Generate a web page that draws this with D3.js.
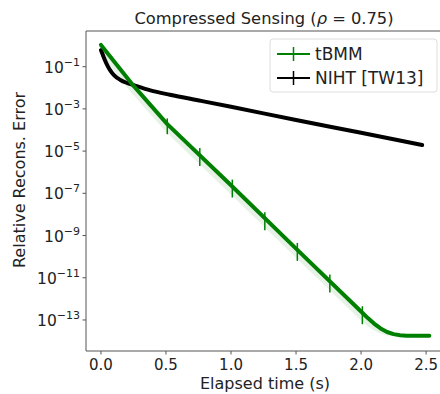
<!DOCTYPE html>
<html>

<script src="https://cdn.jsdelivr.net/npm/d3@7/dist/d3.min.js"></script>

<style>

  body, html {
    padding: 0;
    margin: 0;
    background: #fff;
  }

  svg {
    width: 440px;
    height: 394px;
    font-family: "DejaVu Sans", sans-serif;
  }

</style>

<body>
  <svg></svg>

  <script>

    // log10 of the relative error
    var tbmmTime = [0, 0.236, 0.51, 1.0, 1.5, 2.0, 2.05, 2.1, 2.15, 2.2, 2.25, 2.3, 2.35, 2.4, 2.525],
        tbmmLog  = [0.03, -1.8, -3.72, -6.62, -9.62, -12.6, -12.9, -13.17, -13.4, -13.57, -13.67, -13.72, -13.745, -13.75, -13.75],
        tbmmBand = [-0.4, -2.25, -4.15, -7.05, -10.05, -13.03, -13.3, -13.5, -13.65, -13.74, -13.77, -13.78, -13.78, -13.78, -13.78];

    var errTime = [0.51, 0.76, 1.01, 1.26, 1.51, 1.76, 2.01],
        errLow  = [-4.2, -5.7, -7.2, -8.75, -10.2, -11.7, -13.2],
        errHigh = [-3.45, -4.85, -6.35, -7.9, -9.35, -10.85, -12.35];

    var nihtTime = [0, 0.015, 0.03, 0.05, 0.07, 0.1, 0.15, 0.2, 0.25, 0.38, 0.53, 0.77, 1.0, 1.5, 2.0, 2.47],
        nihtLog  = [-0.21, -0.45, -0.68, -0.95, -1.16, -1.4, -1.63, -1.77, -1.87, -2.12, -2.33, -2.62, -2.9, -3.53, -4.13, -4.71];

    var xTicks = [0.0, 0.5, 1.0, 1.5, 2.0, 2.5],
        yTickExp = [-1, -3, -5, -7, -9, -11, -13];

    var series = [
      { name: 'tBMM', color: 'green' },
      { name: 'NIHT [TW13]', color: 'black' }
    ];

    var pLeft = 86, pTop = 31, pBottom = 351, pRight = 443;

    var x = d3.scaleLinear().domain([-0.115, 2.63]).range([pLeft, pRight]),
        y = d3.scaleLog().domain([Math.pow(10, -14.47), Math.pow(10, 0.69)]).range([pBottom, pTop]);

    var svg = d3.select('svg');

    svg.append('defs').append('clipPath').attr('id', 'plot')
      .append('rect').attr('x', pLeft).attr('y', pTop).attr('width', pRight - pLeft).attr('height', pBottom - pTop);

    var plot = svg.append('g').attr('clip-path', 'url(#plot)');

    var pow = function (e) { return Math.pow(10, e); };

    // shaded spread of tBMM
    plot.append('path')
      .datum(tbmmTime.map(function (t, i) { return { t: t, lo: tbmmBand[i], hi: tbmmLog[i] }; }))
      .attr('fill', 'green')
      .attr('fill-opacity', 0.1)
      .attr('d', d3.area()
        .x(function (d) { return x(d.t); })
        .y0(function (d) { return y(pow(d.lo)); })
        .y1(function (d) { return y(pow(d.hi)); }));

    var line = d3.line()
      .x(function (d) { return x(d.t); })
      .y(function (d) { return y(pow(d.v)); });

    plot.append('path')
      .datum(nihtTime.map(function (t, i) { return { t: t, v: nihtLog[i] }; }))
      .attr('fill', 'none')
      .attr('stroke', 'black')
      .attr('stroke-width', 4)
      .attr('stroke-linecap', 'round')
      .attr('d', line.curve(d3.curveMonotoneX));

    plot.append('path')
      .datum(tbmmTime.map(function (t, i) { return { t: t, v: tbmmLog[i] }; }))
      .attr('fill', 'none')
      .attr('stroke', 'green')
      .attr('stroke-width', 4)
      .attr('stroke-linecap', 'round')
      .attr('stroke-linejoin', 'round')
      .attr('d', line.curve(d3.curveLinear));

    plot.selectAll('line.err')
      .data(errTime)
      .enter().append('line')
      .attr('class', 'err')
      .attr('x1', function (d) { return x(d); })
      .attr('x2', function (d) { return x(d); })
      .attr('y1', function (d, i) { return y(pow(errHigh[i])); })
      .attr('y2', function (d, i) { return y(pow(errLow[i])); })
      .attr('stroke', 'green')
      .attr('stroke-width', 1.5);

    // spines
    var spine = '#555';
    svg.append('line').attr('x1', pLeft).attr('x2', pLeft).attr('y1', pTop).attr('y2', pBottom)
      .attr('stroke', spine).attr('stroke-width', 1);
    svg.append('line').attr('x1', pLeft).attr('x2', 440).attr('y1', pBottom).attr('y2', pBottom)
      .attr('stroke', spine).attr('stroke-width', 1);
    svg.append('line').attr('x1', pLeft).attr('x2', 440).attr('y1', pTop).attr('y2', pTop)
      .attr('stroke', spine).attr('stroke-width', 1);

    // x ticks
    var xt = svg.append('g').selectAll('g').data(xTicks).enter().append('g')
      .attr('transform', function (d) { return 'translate(' + x(d) + ',' + pBottom + ')'; });
    xt.append('line').attr('y2', 3.5).attr('stroke', spine);
    xt.append('text')
      .attr('y', 19).attr('text-anchor', 'middle')
      .attr('font-size', 15).attr('fill', '#222')
      .text(function (d) { return d.toFixed(1); });

    // y ticks
    var yt = svg.append('g').selectAll('g').data(yTickExp).enter().append('g')
      .attr('transform', function (d) { return 'translate(' + pLeft + ',' + y(pow(d)) + ')'; });
    yt.append('line').attr('x2', -3.5).attr('stroke', spine);
    var ytext = yt.append('text')
      .attr('x', -6).attr('y', 6).attr('text-anchor', 'end')
      .attr('font-size', 15.5).attr('fill', '#222');
    ytext.append('tspan').text('10');
    ytext.append('tspan').attr('font-size', 11).attr('dy', -7)
      .text(function (d) { return '\u2212' + Math.abs(d); });

    // axis labels and title
    svg.append('text')
      .attr('x', 265).attr('y', 389).attr('text-anchor', 'middle')
      .attr('font-size', 16).attr('fill', '#222')
      .text('Elapsed time (s)');

    svg.append('text')
      .attr('transform', 'translate(25,180) rotate(-90)')
      .attr('text-anchor', 'middle')
      .attr('font-size', 16).attr('fill', '#222')
      .text('Relative Recons. Error');

    var title = svg.append('text')
      .attr('x', 264).attr('y', 24).attr('text-anchor', 'middle')
      .attr('font-size', 16.3).attr('fill', '#222');
    title.append('tspan').text('Compressed Sensing (');
    title.append('tspan').attr('font-style', 'italic').text('\u03c1');
    title.append('tspan').text(' = 0.75)');

    // legend
    var legend = svg.append('g').attr('transform', 'translate(270,39)');
    legend.append('rect')
      .attr('width', 167).attr('height', 53).attr('rx', 3)
      .attr('fill', 'white').attr('fill-opacity', 0.8)
      .attr('stroke', '#ddd');
    var item = legend.selectAll('g').data(series).enter().append('g')
      .attr('transform', function (d, i) { return 'translate(0,' + (15 + i * 24) + ')'; });
    item.append('line').attr('x1', 7).attr('x2', 40)
      .attr('stroke', function (d) { return d.color; }).attr('stroke-width', 1.8);
    item.append('line').attr('x1', 23.5).attr('x2', 23.5).attr('y1', -7).attr('y2', 7)
      .attr('stroke', function (d) { return d.color; }).attr('stroke-width', 1.5);
    item.append('text')
      .attr('x', 45).attr('y', 6)
      .attr('font-size', 17).attr('fill', '#222')
      .text(function (d) { return d.name; });

  </script>
</body>
</html>
